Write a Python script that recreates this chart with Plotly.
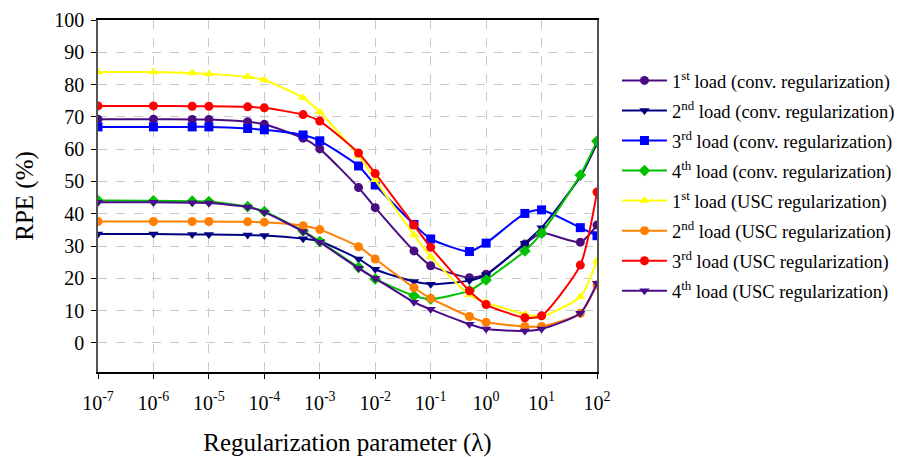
import plotly.graph_objects as go

lam = [1e-7, 1e-6, 5e-6, 1e-5, 5e-5, 1e-4, 5e-4, 1e-3, 5e-3, 1e-2,
       5e-2, 1e-1, 5e-1, 1, 5, 10, 50, 100]

conv1 = [69.3, 69.3, 69.2, 69.2, 68.5, 67.7, 63.4, 60.1, 48.1, 41.9,
         28.5, 23.9, 20.2, 21.3, 30.6, 34.0, 31.2, 36.5]
conv2 = [33.7, 33.7, 33.6, 33.6, 33.4, 33.3, 32.3, 31.5, 26.0, 22.8,
         19.0, 18.2, 19.3, 21.1, 30.9, 35.7, 51.5, 61.8]
conv3 = [66.9, 66.9, 66.9, 66.9, 66.4, 66.0, 64.4, 62.6, 54.8, 48.9,
         36.7, 32.2, 28.3, 30.9, 40.1, 41.2, 35.7, 33.2]
conv4 = [44.1, 44.0, 43.9, 43.8, 42.2, 40.7, 34.7, 31.4, 23.4, 19.8,
         14.6, 13.6, 16.2, 19.5, 28.5, 34.0, 52.0, 62.5]
usc1 = [83.9, 83.9, 83.6, 83.3, 82.4, 81.4, 75.9, 71.5, 58.0, 50.5,
        33.4, 26.7, 14.9, 12.5, 8.9, 8.2, 14.3, 25.4]
usc2 = [37.6, 37.6, 37.6, 37.6, 37.5, 37.4, 36.3, 35.1, 29.8, 26.0,
        17.1, 13.8, 8.2, 6.4, 5.1, 5.1, 9.2, 18.0]
usc3 = [73.4, 73.4, 73.3, 73.3, 73.1, 72.8, 70.7, 68.7, 58.8, 52.5,
        36.5, 29.6, 16.1, 11.9, 7.8, 8.4, 24.1, 46.7]
usc4 = [43.6, 43.6, 43.4, 43.3, 42.1, 40.5, 34.5, 31.2, 23.1, 20.0,
        12.6, 10.4, 5.8, 4.3, 3.7, 4.3, 9.2, 18.5]

names = [
    "1<sup>st</sup> load (conv. regularization)",
    "2<sup>nd</sup> load (conv. regularization)",
    "3<sup>rd</sup> load (conv. regularization)",
    "4<sup>th</sup> load (conv. regularization)",
    "1<sup>st</sup> load (USC regularization)",
    "2<sup>nd</sup> load (USC regularization)",
    "3<sup>rd</sup> load (USC regularization)",
    "4<sup>th</sup> load (USC regularization)",
]
series = [conv1, conv2, conv3, conv4, usc1, usc2, usc3, usc4]
colors = ["#4B0C82", "#000080", "#0000FF", "#00C000",
          "#FFFF00", "#FF8000", "#FF0000", "#4B0C8C"]
symbols = ["circle", "triangle-down", "square", "diamond",
           "triangle-up", "circle", "circle", "triangle-down"]

xtickvals = [1e-7, 1e-6, 1e-5, 1e-4, 1e-3, 1e-2, 1e-1, 1, 10, 100]
xticktext = ["10<sup>-7</sup>", "10<sup>-6</sup>", "10<sup>-5</sup>", "10<sup>-4</sup>",
             "10<sup>-3</sup>", "10<sup>-2</sup>", "10<sup>-1</sup>", "10<sup>0</sup>",
             "10<sup>1</sup>", "10<sup>2</sup>"]
ytickvals = [0, 10, 20, 30, 40, 50, 60, 70, 80, 90, 100]

FF = "Liberation Serif"

fig = go.Figure()
for i, (nm, ys, c, s) in enumerate(zip(names, series, colors, symbols)):
    fig.add_trace(go.Scatter(
        x=lam, y=ys, name=nm, mode="lines+markers", legendgroup=f"g{i}",
        line=dict(color=c, width=2, shape="spline", smoothing=0.6),
        marker=dict(color=c, symbol=s, size=9),
    ))

fig.update_layout(
    width=904, height=449,
    margin=dict(l=90, r=315, t=12, b=85),
    paper_bgcolor="white", plot_bgcolor="white",
    font=dict(family=FF, color="black", size=20),
    showlegend=True,
    legend=dict(x=1.04, y=0.881, xanchor="left", yanchor="top",
                font=dict(family=FF, size=18.5, color="black"),
                bgcolor="rgba(0,0,0,0)", itemwidth=45, tracegroupgap=3),
    xaxis=dict(type="log", range=[-7, 2], tickvals=xtickvals, ticktext=xticktext,
               automargin=False,
               showgrid=True, gridcolor="#C8C8C8", griddash="dash", gridwidth=1,
               showline=True, linecolor="black", linewidth=1.5, mirror=True,
               ticks="outside", ticklen=5, tickcolor="black", ticklabelstandoff=7,
               tickfont=dict(family=FF, size=20, color="black"),
               title=dict(text="Regularization parameter (λ)",
                          font=dict(family=FF, size=25, color="black"), standoff=23),
               zeroline=False),
    yaxis=dict(range=[-9, 100], tickvals=ytickvals,
               automargin=False,
               showgrid=True, gridcolor="#C8C8C8", griddash="dash", gridwidth=1,
               showline=True, linecolor="#555555", linewidth=1.5, mirror=True,
               ticks="outside", ticklen=5, tickcolor="black", ticklabelstandoff=3,
               tickfont=dict(family=FF, size=20, color="black"),
               title=dict(text="RPE (%)", font=dict(family=FF, size=25, color="black"),
                          standoff=14),
               zeroline=False),
)

fig.write_html("out.html")
